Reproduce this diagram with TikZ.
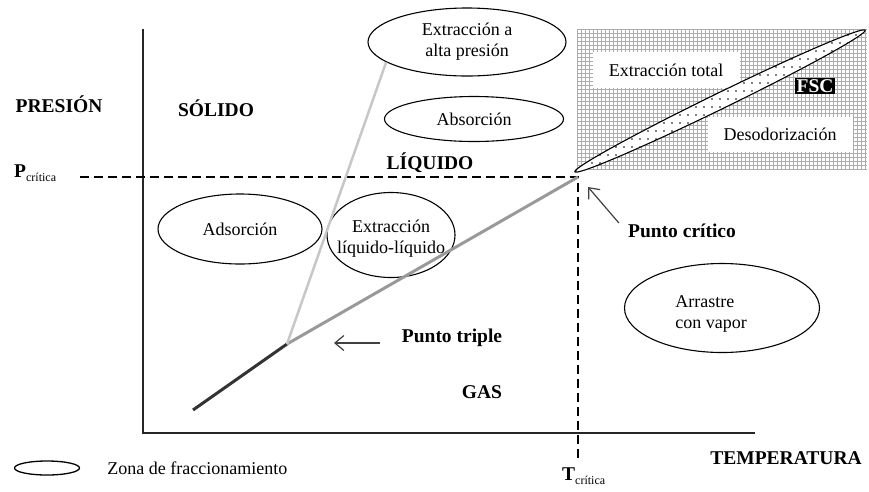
\documentclass[tikz,border=0pt]{standalone}
\usepackage{fontspec}
\setmainfont{Liberation Serif}
\usepackage{tikz}
\usetikzlibrary{positioning,calc,shapes.geometric,arrows.meta,patterns.meta}

\newcommand{\subcrit}[1]{{\bfseries #1}\raisebox{-4pt}{\fontsize{12}{14}\selectfont\mdseries crítica}}

\begin{document}
\begin{tikzpicture}[x=1pt,y=-1pt,
	txt/.style={font=\fontsize{18}{21}\selectfont, align=center, inner sep=0},
	lbl/.style={font=\fontsize{19.5}{22}\selectfont\bfseries, inner sep=0},
	elip/.style={ellipse, draw, line width=1.1pt, inner sep=0, txt},
	fase/.style={line width=3pt},
	flecha/.style={draw=black!75, line width=1.2pt, -{Straight Barb[length=9pt,width=15pt]}},
	linea/.style={dash pattern=on 9pt off 5pt, line width=1.2pt}]
	\useasboundingbox (0,0) rectangle (869,491);

	% ejes
	\coordinate (origen) at (143,433);
	\draw[line width=1.3pt, black!85] (143,29) -- (origen) -- (755,433);

	% zona cuadriculada arriba a la derecha
	\fill[white] (577,29) rectangle (867,170);
	\foreach \x in {577,581,...,867}
		\draw[gray!65, line width=0.8pt] (\x,29) -- (\x,170);
	\foreach \y in {29,33,...,170}
		\draw[gray!65, line width=0.8pt] (577,\y) -- (867,\y);
	\node[txt, fill=white, minimum width=147pt, minimum height=36pt] (total) at (666,70) {Extracción total};
	\node[txt, fill=white, minimum width=145pt, minimum height=35pt] (deso) at (780,134) {Desodorización};
	\node[lbl, fill=black, text=white, inner sep=1.5pt] (fsc) at (815,86) {FSC};
	\node[ellipse, draw, line width=1.1pt, rotate=26, minimum width=323pt, minimum height=16pt, inner sep=0,
		preaction={fill=white}, pattern={Dots[distance=8pt,radius=0.9pt]}] (zonaFSC) at (720,101) {};

	% lineas discontinuas del punto critico
	\coordinate (critico) at (578,177);
	\draw[linea] (80,177) -- (critico) -- (578,458);

	% elipses
	\node[elip, minimum width=198pt, minimum height=68pt] (alta) at (467,42) {Extracción a\\alta presión};
	\node[elip, minimum width=179pt, minimum height=45pt] (absor) at (474,119) {Absorción};
	\node[elip, minimum width=164pt, minimum height=70pt] (adsor) at (240,229) {Adsorción};
	\draw[line width=1.1pt] (391,235) ellipse [x radius=64, y radius=42.5];
	\node[txt] (liq) at (391,239) {Extracción\\líquido-líquido};
	\draw[line width=1.1pt] (722,308) ellipse [x radius=97.5, y radius=44.5];
	\node[txt, align=left] (vapor) at (711,314) {Arrastre\\con vapor};

	% curvas de equilibrio
	\coordinate (triple) at (287,344);
	\coordinate (subl) at (193,410);
	\draw[fase, black!80] (subl) -- (triple);
	\draw[fase, black!40] (triple) -- (critico);
	\draw[fase, black!22, line width=2.5pt] (triple) -- (alta.194);

	% rotulos
	\node[lbl] (presion) at (59,104) {PRESIÓN};
	\node[lbl] (solido) at (216,108) {SÓLIDO};
	\node[lbl] (liquido) at (430,163) {LÍQUIDO};
	\node[lbl] (gas) at (482,392) {GAS};
	\node[lbl] (temp) at (786,458) {TEMPERATURA};
	\node[inner sep=0, anchor=base west, font=\fontsize{19.5}{22}\selectfont] (pcritica) at (14,177) {\subcrit{P}};
	\node[inner sep=0, anchor=base west, font=\fontsize{19.5}{22}\selectfont] (tcritica) at (562,480) {\subcrit{T}};

	\node[lbl] (ptriple) at (452,338) {Punto triple};
	\coordinate (ptTip) at (334,343);
	\draw[flecha] ([xshift=-22pt,yshift=-5pt]ptriple.west) -- (ptTip);
	\node[lbl] (pcrit) at (682,231) {Punto crítico};
	\coordinate (pcTip) at (588,187);
	\draw[flecha] ([xshift=-9pt,yshift=8pt]pcrit.west) -- (pcTip);

	% leyenda
	\node[ellipse, draw, line width=1.3pt, minimum width=65pt, minimum height=14pt, inner sep=0] (leyenda) at (47,468) {};
	\node[txt, right=27pt of leyenda] (leyendaTxt) {Zona de fraccionamiento};
\end{tikzpicture}
\end{document}
